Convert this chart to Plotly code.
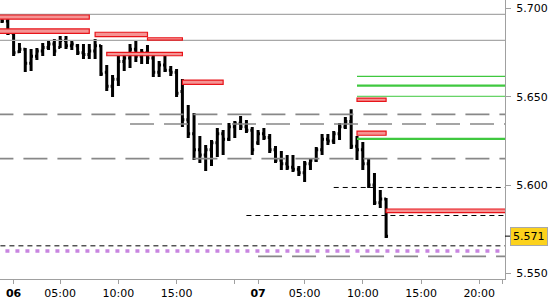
import plotly.graph_objects as go

# ---- time axis (30-minute bars, thin night session) ----
session = ["00:00", "00:30", "01:30", "02:00", "03:00", "03:30", "04:00", "04:30"] + \
          [f"{h:02d}:{m:02d}" for h in range(5, 22) for m in (0, 30)]
bar_times = ["05 21:00", "05 21:30"] + ["06 " + t for t in session] + \
            ["07 " + t for t in session] + ["08 00:00"]

# ---- OHLC series ----
opens = [5.6960, 5.6930, 5.6860, 5.6755, 5.6770, 5.6690, 5.6730, 5.6760, 5.6780, 5.6800,
         5.6780, 5.6820, 5.6790, 5.6790, 5.6750, 5.6740, 5.6760, 5.6790, 5.6640, 5.6560,
         5.6600, 5.6700, 5.6720, 5.6770, 5.6730, 5.6750, 5.6720, 5.6640, 5.6680, 5.6650,
         5.6640, 5.6530, 5.6370, 5.6290, 5.6200, 5.6170, 5.6200, 5.6240, 5.6290, 5.6260,
         5.6330, 5.6350, 5.6330, 5.6310, 5.6240, 5.6290, 5.6270, 5.6200, 5.6140, 5.6120,
         5.6100, 5.6090, 5.6070, 5.6120, 5.6140, 5.6200, 5.6260, 5.6250, 5.6290, 5.6330,
         5.6360, 5.6220, 5.6200, 5.6120, 5.6000, 5.5900, 5.5920]
highs = [5.6970, 5.6964, 5.6873, 5.6805, 5.6777, 5.6771, 5.6777, 5.6805, 5.6822, 5.6828,
         5.6845, 5.6845, 5.6816, 5.6799, 5.6799, 5.6799, 5.6828, 5.6794, 5.6680, 5.6624,
         5.6731, 5.6748, 5.6799, 5.6816, 5.6771, 5.6794, 5.6737, 5.6703, 5.6731, 5.6675,
         5.6658, 5.6601, 5.6454, 5.6408, 5.6278, 5.6227, 5.6255, 5.6323, 5.6312, 5.6351,
         5.6363, 5.6391, 5.6368, 5.6329, 5.6312, 5.6323, 5.6289, 5.6221, 5.6193, 5.6170,
         5.6170, 5.6108, 5.6136, 5.6153, 5.6215, 5.6289, 5.6289, 5.6306, 5.6351, 5.6385,
         5.6430, 5.6278, 5.6244, 5.6153, 5.6068, 5.5971, 5.5926]
lows = [5.6919, 5.6851, 5.6731, 5.6748, 5.6641, 5.6646, 5.6709, 5.6731, 5.6765, 5.6731,
        5.6777, 5.6771, 5.6765, 5.6737, 5.6714, 5.6714, 5.6714, 5.6618, 5.6533, 5.6499,
        5.6561, 5.6646, 5.6663, 5.6697, 5.6686, 5.6686, 5.6612, 5.6612, 5.6641, 5.6618,
        5.6499, 5.6329, 5.6266, 5.6142, 5.6125, 5.6079, 5.6108, 5.6159, 5.6170, 5.6249,
        5.6266, 5.6312, 5.6295, 5.6170, 5.6227, 5.6255, 5.6181, 5.6125, 5.6085, 5.6085,
        5.6074, 5.6051, 5.6017, 5.6085, 5.6130, 5.6170, 5.6227, 5.6232, 5.6255, 5.6317,
        5.6204, 5.6142, 5.6085, 5.5983, 5.5886, 5.5869, 5.5700]
closes = [5.6930, 5.6860, 5.6750, 5.6770, 5.6690, 5.6730, 5.6760, 5.6780, 5.6800, 5.6760,
          5.6820, 5.6790, 5.6800, 5.6750, 5.6740, 5.6760, 5.6790, 5.6630, 5.6560, 5.6600,
          5.6700, 5.6720, 5.6770, 5.6730, 5.6750, 5.6720, 5.6640, 5.6680, 5.6650, 5.6640,
          5.6520, 5.6370, 5.6290, 5.6200, 5.6170, 5.6200, 5.6240, 5.6290, 5.6260, 5.6330,
          5.6350, 5.6330, 5.6310, 5.6200, 5.6290, 5.6270, 5.6200, 5.6140, 5.6120, 5.6100,
          5.6090, 5.6070, 5.6120, 5.6140, 5.6200, 5.6260, 5.6250, 5.6290, 5.6330, 5.6360,
          5.6220, 5.6200, 5.6120, 5.6000, 5.5900, 5.5920, 5.5710]

# ---- axis ticks ----
tick_times = ["06 00:00", "06 05:00", "06 10:00", "06 15:00", "06 20:00",
              "07 00:00", "07 05:00", "07 10:00", "07 15:00", "07 20:00", "08 00:00"]
tick_texts = ["<b>06</b>", "05:00", "10:00", "15:00", "",
              "<b>07</b>", "05:00", "10:00", "15:00", "20:00", ""]

# ---- supply zones (red boxes) ----
zone_tops = [5.6964, 5.6885, 5.6866, 5.6835, 5.6752, 5.6595, 5.6493, 5.6306, 5.5864]
zone_bottoms = [5.6940, 5.6860, 5.6841, 5.6822, 5.6733, 5.6571, 5.6474, 5.6282, 5.5843]
zone_starts = [None, None, "06 08:00", "06 12:30", "06 09:00", "06 15:30",
               "07 09:30", "07 09:30", "07 12:00"]
zone_ends = ["06 07:30", "06 07:30", "06 12:30", "06 15:30", "06 15:30", "06 19:00",
             "07 12:00", "07 12:00", None]

# ---- horizontal levels ----
solid_levels = [5.6967, 5.6820]
green_levels = [5.6616, 5.6563, 5.6503, 5.6262]
green_widths = [1.3, 2.2, 1.0, 2.2]
green_start = "07 09:30"
gray_levels = [5.6400, 5.6346, 5.6149, 5.5595]
gray_starts = [None, "06 11:00", None, "07 00:00"]
black_levels = [5.5986, 5.5827, 5.5655]
black_starts = ["07 07:30", "06 21:00", None]
purple_level = 5.5626

X_MIN, X_MAX = -0.34, 86.43
LEFT_OFF, RIGHT_OFF = -8, 95


def pos(t, default):
    return bar_times.index(t) if t else default


fig = go.Figure()


def hline(y, start, width, color, dash):
    fig.add_trace(go.Scatter(x=[pos(start, LEFT_OFF), RIGHT_OFF], y=[y, y], mode="lines",
                             line=dict(color=color, width=width, dash=dash),
                             hoverinfo="skip", showlegend=False))


for lv in solid_levels:
    hline(lv, None, 1.2, "#A8A8A8", "solid")
for lv, st in zip(gray_levels, gray_starts):
    hline(lv, st, 1.7, "#888888", "24px,10px")
for lv, st in zip(black_levels, black_starts):
    hline(lv, st, 1.0, "#000000", "5px,4px")
hline(purple_level, None, 3.5, "#C884E0", "4px,6px")
for lv, w in zip(green_levels, green_widths):
    hline(lv, green_start, w, "#3FC83F", "solid")

for top, bot, st, en in zip(zone_tops, zone_bottoms, zone_starts, zone_ends):
    fig.add_shape(type="rect", xref="x", yref="y",
                  x0=pos(st, LEFT_OFF), x1=pos(en, RIGHT_OFF), y0=bot, y1=top,
                  fillcolor="#F59494", line=dict(color="#E8141A", width=1.2), layer="above")

fig.add_trace(go.Ohlc(x=list(range(len(opens))), open=opens, high=highs, low=lows, close=closes,
                      increasing=dict(line=dict(color="black", width=3)),
                      decreasing=dict(line=dict(color="black", width=3)),
                      tickwidth=0.33, hoverinfo="skip", showlegend=False))

# last price marker
last = closes[-1]
fig.add_shape(type="line", xref="paper", yref="y", x0=1, x1=1.011, y0=last, y1=last,
              line=dict(color="black", width=1))
fig.add_annotation(xref="paper", yref="y", x=1, y=last, xanchor="left", xshift=5,
                   text=f"{last:.3f}", showarrow=False, bgcolor="#FCD21C",
                   bordercolor="#A8A8A8", borderwidth=1, borderpad=2,
                   font=dict(family="DejaVu Sans", size=11, color="black"))

fig.update_layout(
    width=550, height=300, margin=dict(l=0, r=45, t=0, b=21),
    paper_bgcolor="white", plot_bgcolor="white", showlegend=False,
    font=dict(family="DejaVu Sans", size=11, color="black"),
    xaxis=dict(range=[X_MIN, X_MAX], tickmode="array",
               tickvals=[bar_times.index(t) for t in tick_times], ticktext=tick_texts,
               ticks="outside", ticklen=4, tickcolor="#A0A0A0", showline=True,
               linecolor="#A0A0A0", linewidth=1, showgrid=False, zeroline=False,
               rangeslider=dict(visible=False)),
    yaxis=dict(side="right", range=[5.5467, 5.7049], tick0=5.55, dtick=0.05,
               tickformat=".3f", ticks="outside", ticklen=5, tickcolor="#A0A0A0",
               showline=True, linecolor="#A0A0A0", linewidth=1, showgrid=False,
               zeroline=False, ticklabelstandoff=3),
)

fig.write_html("out.html")
